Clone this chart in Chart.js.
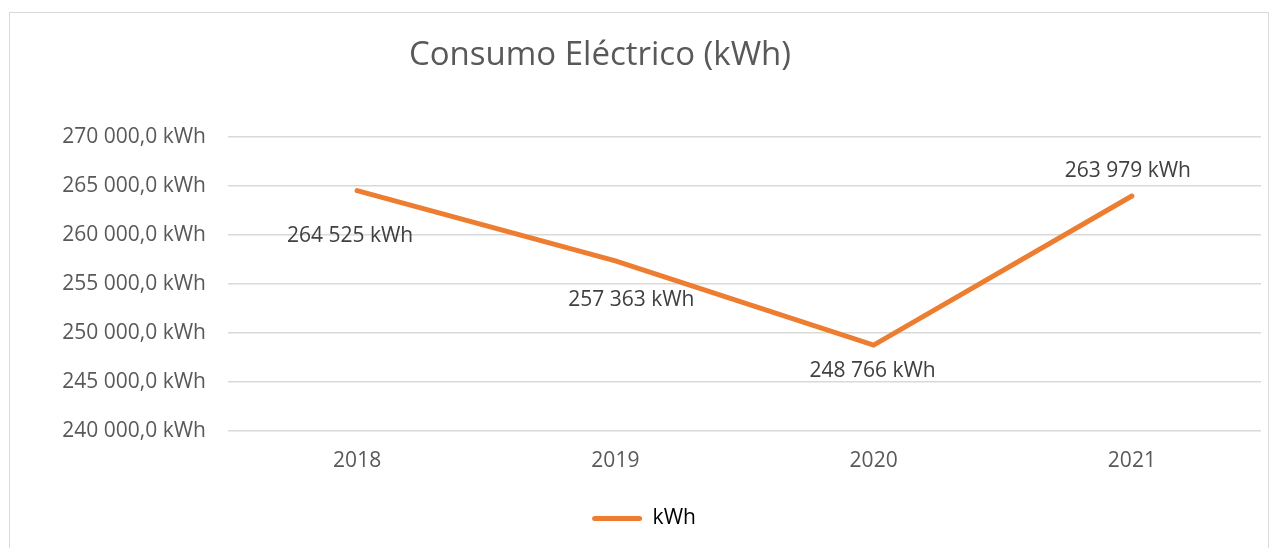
<!DOCTYPE html>
<html>
<head>
<meta charset="utf-8">
<script src="https://cdn.jsdelivr.net/npm/chart.js@4/dist/chart.umd.min.js"></script>
<style>
html,body{margin:0;padding:0;background:#fff;}
#wrap{position:relative;width:1272px;height:548px;}
</style>
</head>
<body>
<div id="wrap"><canvas id="c" width="1272" height="548"></canvas></div>
<script>
const chartTitle = 'Consumo Eléctrico (kWh)';
const categories = ['2018', '2019', '2020', '2021'];
const seriesName = 'kWh';
const consumo = [264525, 257363, 248766, 263979];
const yMin = 240000;
const yMax = 270000;
const yStep = 5000;

// label placement offsets (style only)
const labelOffsets = [[-7, 45], [16, 39], [-1, 26], [-4, -25]];

const FONT = "'Open Sans', 'DejaVu Sans', sans-serif";
const ORANGE = '#ED7D31';

function groupThousands(n) {
  return String(Math.round(n)).replace(/\B(?=(\d{3})+(?!\d))/g, ' ');
}

const framePlugin = {
  id: 'frame',
  beforeDraw(chart) {
    const ctx = chart.ctx;
    ctx.save();
    ctx.fillStyle = '#fff';
    ctx.fillRect(0, 0, chart.width, chart.height);
    ctx.strokeStyle = '#d9d9d9';
    ctx.lineWidth = 1;
    ctx.strokeRect(9.5, 12.5, 1259, 600);
    ctx.restore();
  },
  afterDraw(chart) {
    const ctx = chart.ctx;
    ctx.save();
    ctx.fillStyle = '#595959';
    ctx.font = "33px " + FONT;
    ctx.textAlign = 'center';
    ctx.textBaseline = 'middle';
    ctx.fillText(chartTitle, 600, 56);
    ctx.restore();
  }
};

const labelPlugin = {
  id: 'dataLabels',
  afterDatasetsDraw(chart) {
    const ctx = chart.ctx;
    const meta = chart.getDatasetMeta(0);
    ctx.save();
    ctx.fillStyle = '#404040';
    ctx.font = "21px " + FONT;
    ctx.textAlign = 'center';
    ctx.textBaseline = 'middle';
    meta.data.forEach((pt, i) => {
      const off = labelOffsets[i];
      ctx.fillText(groupThousands(consumo[i]) + ' kWh', pt.x + off[0], pt.y + off[1]);
    });
    ctx.restore();
  }
};

new Chart(document.getElementById('c'), {
  type: 'line',
  data: {
    labels: categories,
    datasets: [{
      label: seriesName,
      data: consumo,
      borderColor: ORANGE,
      backgroundColor: ORANGE,
      borderWidth: 5,
      borderCapStyle: 'round',
      borderJoinStyle: 'miter',
      pointRadius: 0,
      pointHoverRadius: 0,
      tension: 0,
      fill: false
    }]
  },
  options: {
    responsive: false,
    animation: false,
    devicePixelRatio: 1,
    layout: { padding: { top: 137, left: 27, right: 11, bottom: 9 } },
    plugins: {
      title: { display: false },
      tooltip: { enabled: false },
      legend: {
        display: true,
        position: 'bottom',
        labels: {
          color: '#595959',
          font: { family: FONT, size: 21 },
          boxWidth: 50,
          boxHeight: 5,
          padding: 10,
          generateLabels(chart) {
            return [{
              text: seriesName,
              fillStyle: ORANGE,
              strokeStyle: ORANGE,
              lineWidth: 0,
              borderRadius: 2.5,
              datasetIndex: 0
            }];
          }
        }
      }
    },
    scales: {
      x: {
        type: 'category',
        offset: true,
        grid: { display: false, drawTicks: false },
        border: { display: false },
        ticks: { color: '#595959', font: { family: FONT, size: 21 }, padding: 17 },
        afterFit(scale) { scale.height = 67; }
      },
      y: {
        min: yMin,
        max: yMax,
        grid: { color: '#d9d9d9', lineWidth: 1.5, drawTicks: false },
        border: { display: false },
        ticks: {
          stepSize: yStep,
          color: '#595959',
          font: { family: FONT, size: 21 },
          padding: 22,
          callback: v => groupThousands(v) + ',0 kWh'
        },
        afterFit(scale) { scale.width = 201; }
      }
    }
  },
  plugins: [framePlugin, labelPlugin]
});
</script>
</body>
</html>
